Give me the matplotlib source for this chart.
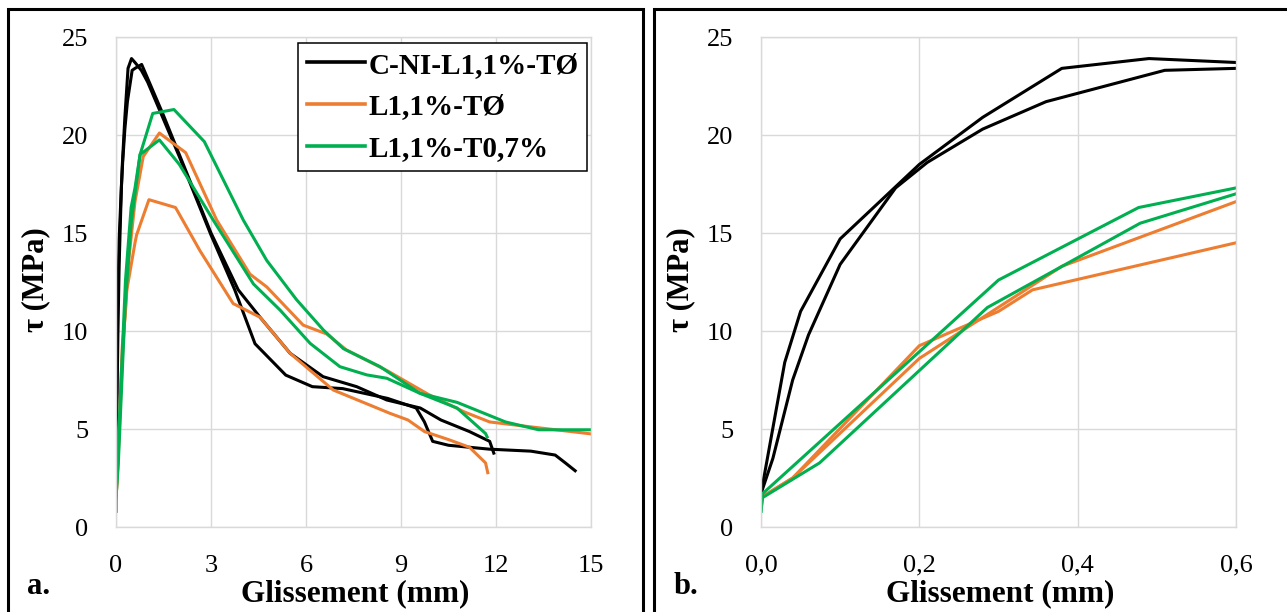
import matplotlib
matplotlib.use("Agg")
import matplotlib.pyplot as plt
from matplotlib.patches import Rectangle

plt.rcParams['font.family'] = ['Liberation Serif', 'DejaVu Serif']

# slip (mm) / bond stress (MPa), two specimens per series
black_a_x = [0, 0.03, 0.05, 0.10, 0.20, 0.28, 0.38, 0.49, 0.60, 0.80, 1.0, 1.5, 2.0, 2.5, 3.0,
             3.75, 4.39, 5.36, 6.2, 7.16, 8.58, 9.48, 9.74, 10.0, 10.5, 11.8, 13.1, 13.87, 14.19, 14.5]
black_a_y = [1.7, 8.4, 11.0, 14.7, 18.5, 20.9, 23.4, 23.9, 23.7, 23.3, 22.7, 20.8, 18.9, 16.9, 14.9,
             12.1, 9.35, 7.75, 7.16, 7.06, 6.56, 6.07, 5.36, 4.37, 4.17, 3.97, 3.87, 3.67, 3.27, 2.87]

black_b_x = [0, 0.015, 0.04, 0.06, 0.10, 0.17, 0.21, 0.28, 0.36, 0.51, 0.60, 0.81, 0.97, 1.5, 2.0,
             2.5, 3.0, 3.86, 4.55, 5.5, 6.54, 7.6, 8.55, 9.61, 10.26, 11.16, 11.8, 11.93]
black_b_y = [1.7, 3.5, 7.5, 9.8, 13.4, 17.3, 18.6, 20.3, 21.7, 23.3, 23.4, 23.6, 23.0, 21.0, 19.0,
             17.0, 15.0, 12.1, 10.7, 8.86, 7.67, 7.16, 6.48, 6.07, 5.46, 4.87, 4.37, 3.77]

orange_a_x = [0, 0.04, 0.2, 0.38, 0.6, 0.86, 1.37, 2.2, 3.18, 4.23, 4.76, 5.91, 6.65, 7.28,
              8.58, 9.87, 11.0, 11.8, 12.83, 15.0]
orange_a_y = [1.5, 2.5, 8.6, 13.3, 16.6, 18.9, 20.1, 19.1, 15.66, 12.9, 12.25, 10.3, 9.85, 9.03,
              7.96, 6.76, 5.87, 5.36, 5.16, 4.75]

orange_b_x = [0, 0.04, 0.2, 0.3, 0.343, 0.6, 0.65, 1.04, 1.88, 2.65, 3.7, 4.55, 5.5, 6.86,
              8.65, 9.22, 9.74, 10.5, 11.16, 11.67, 11.74]
orange_b_y = [1.5, 2.5, 9.25, 11.0, 12.1, 14.5, 14.9, 16.7, 16.3, 14.1, 11.4, 10.7, 8.86, 6.99,
              5.8, 5.46, 4.87, 4.46, 4.07, 3.27, 2.77]

green_a_x = [0, 0.002, 0.3, 0.477, 0.6, 0.76, 1.16, 1.83, 2.79, 4.02, 4.76, 5.7, 6.55, 7.18,
             8.34, 9.6, 10.77, 12.3, 13.35, 15.0]
green_a_y = [0.8, 1.7, 12.6, 16.3, 17.3, 19.0, 21.1, 21.3, 19.66, 15.66, 13.6, 11.6, 10.05, 9.1,
             8.18, 6.82, 6.36, 5.36, 4.96, 4.96]

green_b_x = [0, 0.002, 0.074, 0.286, 0.479, 0.6, 0.76, 1.37, 2.0, 3.07, 4.34, 5.18, 6.13, 7.07,
             7.92, 8.55, 9.6, 10.77, 11.67, 11.72]
green_b_y = [0.8, 1.5, 3.27, 11.2, 15.5, 17.0, 19.0, 19.75, 18.5, 15.66, 12.4, 11.07, 9.37, 8.18,
             7.76, 7.59, 6.82, 6.07, 4.77, 4.6]

series = [
    ('C-NI-L1,1%-TØ', '#000000', (black_a_x, black_a_y), (black_b_x, black_b_y)),
    ('L1,1%-TØ', '#ED7D31', (orange_a_x, orange_a_y), (orange_b_x, orange_b_y)),
    ('L1,1%-T0,7%', '#00B050', (green_a_x, green_a_y), (green_b_x, green_b_y)),
]

W, H = 1287, 612
fig = plt.figure(figsize=(W / 100, H / 100), dpi=100)

ax1 = fig.add_axes([116 / W, 1 - 527 / H, 475 / W, 490 / H])
ax2 = fig.add_axes([761 / W, 1 - 527 / H, 475 / W, 490 / H])

for ax in (ax1, ax2):
    for name, col, s1, s2 in series:
        ax.plot(*s1, color=col, lw=2.2, label=name, solid_joinstyle='round')
        ax.plot(*s2, color=col, lw=2.2, solid_joinstyle='round')
    ax.set_ylim(0, 25)
    ax.set_yticks([0, 5, 10, 15, 20, 25])
    ax.grid(True, color='#D9D9D9', lw=1.0)
    ax.set_axisbelow(True)
    for sp in ax.spines.values():
        sp.set_color('#D9D9D9')
        sp.set_linewidth(1.0)
    ax.tick_params(length=0, labelsize=19, pad=20)

ax1.set_xlim(0, 15)
ax1.set_xticks([0, 3, 6, 9, 12, 15])
ax2.set_xlim(0, 0.6)
ax2.set_xticks([0, 0.2, 0.4, 0.6])
ax2.set_xticklabels(['0,0', '0,2', '0,4', '0,6'])

leg = ax1.legend(loc='upper right', bbox_to_anchor=(0.992, 0.988), borderaxespad=0,
                 fancybox=False, framealpha=1, edgecolor='black', handlelength=2.0,
                 handletextpad=0.1, labelspacing=0.5, borderpad=0.3,
                 prop={'family': 'Liberation Serif', 'weight': 'bold', 'size': 21})
leg.get_frame().set_linewidth(1.1)
for line in leg.get_lines():
    line.set_linewidth(2.6)

# axis labels, panel letters
for cx in (116, 761):
    fig.text((cx - 80) / W, 1 - 280 / H, 'τ (MPa)', rotation=90, ha='center', va='center',
             fontsize=22, fontweight='bold')
    fig.text((cx + 239) / W, 1 - 594 / H, 'Glissement (mm)', ha='center', va='center',
             fontsize=22.5, fontweight='bold')
fig.text(39 / W, 1 - 586 / H, 'a.', ha='center', va='center', fontsize=22, fontweight='bold')
fig.text(686 / W, 1 - 586 / H, 'b.', ha='center', va='center', fontsize=22, fontweight='bold')

# panel frames
fig.patches.append(Rectangle((8 / W, -0.05), (643 - 8) / W, 1.05 - 9 / H, transform=fig.transFigure,
                             fill=False, edgecolor='black', lw=2.2))
fig.patches.append(Rectangle((654 / W, -0.05), 0.6, 1.05 - 9 / H, transform=fig.transFigure,
                             fill=False, edgecolor='black', lw=2.2))

fig.savefig('out.png', dpi=100)
